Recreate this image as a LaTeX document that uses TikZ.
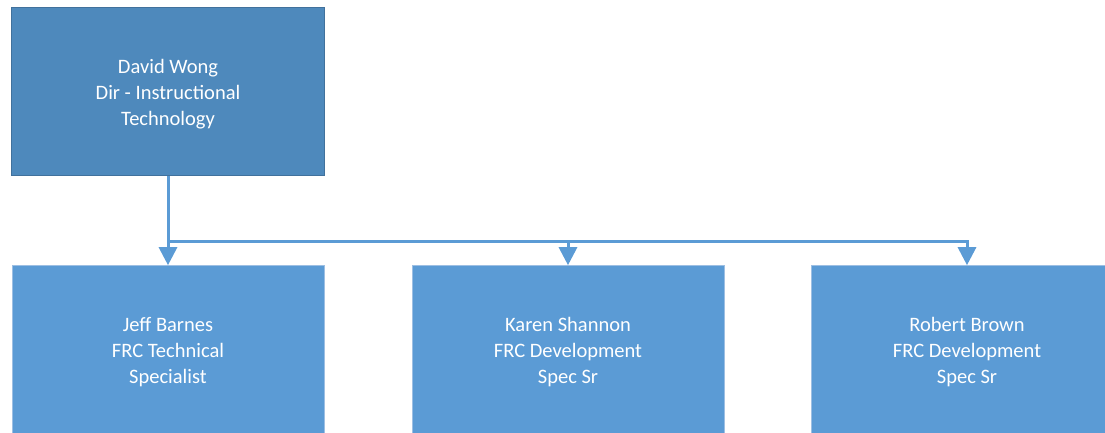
\documentclass[tikz,border=0pt]{standalone}
\usepackage{fontspec}
\setmainfont{Carlito}
\usetikzlibrary{arrows.meta}

\definecolor{bossfill}{HTML}{4E89BC}
\definecolor{bossedge}{HTML}{41719C}
\definecolor{stafffill}{HTML}{5B9BD5}
\definecolor{staffedge}{HTML}{9DBFE3}

\begin{document}
\begin{tikzpicture}[x=1pt,y=-1pt,
        boss/.style={draw=bossedge, line width=1.5pt, fill=bossfill,
            minimum width=313pt, minimum height=168pt},
        staff/.style={draw=staffedge, line width=0.6pt, fill=stafffill,
            minimum width=312pt, minimum height=169pt},
        caption/.style={text=white, align=center,
            font=\fontsize{20.5}{26}\selectfont},
        link/.style={draw=stafffill, line width=3pt},
        tip/.style={-{Triangle[width=18pt,length=18pt]}}]
        \useasboundingbox (0,0) rectangle (1105,433);
        \clip (0,0) rectangle (1105,433);

        \node[boss] (wong) at (168,91.5) {};
        \node[caption] (wongtext) at ([yshift=-3pt]wong.center) {David Wong\\Dir - Instructional\\Technology};

        \node[staff] (barnes) at (168,350) {};
        \node[staff] (shannon) at (568,350) {};
        \node[staff] (brown) at (967,350) {};
        \node[caption] (barnestext) at ([yshift=-2.5pt]barnes.center) {Jeff Barnes\\FRC Technical\\Specialist};
        \node[caption] (shannontext) at ([yshift=-2.5pt]shannon.center) {Karen Shannon\\FRC Development\\Spec Sr};
        \node[caption] (browntext) at ([yshift=-2.5pt]brown.center) {Robert Brown\\FRC Development\\Spec Sr};

        \coordinate (bend) at (168,241);
        \draw[link] (wong.south) -- (bend);
        \draw[link,tip] (bend) -- (barnes.north);
        \draw[link,tip] (shannon.north |- bend) -- (shannon.north);
        \draw[link,tip] (bend) -| (brown.north);

    \end{tikzpicture}
\end{document}
